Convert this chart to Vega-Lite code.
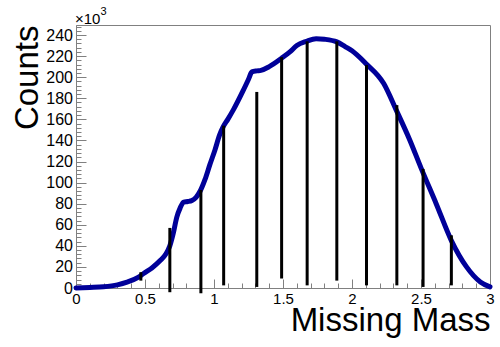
{
  "$schema": "https://vega.github.io/schema/vega-lite/v6.json",
  "width": 414,
  "height": 263,
  "autosize": "none",
  "padding": {"left": 76, "top": 25, "right": 10, "bottom": 59},
  "background": "white",
  "config": {
    "font": "Liberation Sans",
    "view": {"stroke": "#808080", "strokeWidth": 1},
    "axis": {"grid": false}
  },
  "datasets": {
    "curve": [
      {"mass": 0.0, "counts": 0.0},
      {"mass": 0.1, "counts": 0.5},
      {"mass": 0.2, "counts": 1.2},
      {"mass": 0.3, "counts": 3.0},
      {"mass": 0.37, "counts": 5.5},
      {"mass": 0.45, "counts": 10.0},
      {"mass": 0.49, "counts": 13.7},
      {"mass": 0.55, "counts": 19.0},
      {"mass": 0.61, "counts": 26.0},
      {"mass": 0.65, "counts": 32.0},
      {"mass": 0.68, "counts": 40.0},
      {"mass": 0.705, "counts": 52.0},
      {"mass": 0.73, "counts": 67.0},
      {"mass": 0.755, "counts": 76.0},
      {"mass": 0.78, "counts": 81.5},
      {"mass": 0.81, "counts": 82.0},
      {"mass": 0.84, "counts": 83.0},
      {"mass": 0.87, "counts": 86.0},
      {"mass": 0.9, "counts": 92.0},
      {"mass": 0.935, "counts": 103.0},
      {"mass": 0.97, "counts": 117.0},
      {"mass": 1.007, "counts": 131.0},
      {"mass": 1.04, "counts": 145.0},
      {"mass": 1.067, "counts": 153.0},
      {"mass": 1.1, "counts": 160.0},
      {"mass": 1.14, "counts": 169.0},
      {"mass": 1.21, "counts": 187.0},
      {"mass": 1.25, "counts": 198.0},
      {"mass": 1.275, "counts": 205.0},
      {"mass": 1.31, "counts": 206.0},
      {"mass": 1.34, "counts": 206.5},
      {"mass": 1.4, "counts": 210.0},
      {"mass": 1.49, "counts": 218.0},
      {"mass": 1.55, "counts": 224.0},
      {"mass": 1.6, "counts": 230.0},
      {"mass": 1.67, "counts": 234.0},
      {"mass": 1.74, "counts": 236.5},
      {"mass": 1.8, "counts": 236.0},
      {"mass": 1.89, "counts": 233.5},
      {"mass": 1.95, "counts": 229.0},
      {"mass": 2.0, "counts": 225.0},
      {"mass": 2.1, "counts": 213.0},
      {"mass": 2.23, "counts": 194.0},
      {"mass": 2.32, "counts": 169.0},
      {"mass": 2.42, "counts": 140.0},
      {"mass": 2.5, "counts": 114.0},
      {"mass": 2.61, "counts": 80.0},
      {"mass": 2.72, "counts": 45.0},
      {"mass": 2.83, "counts": 20.0},
      {"mass": 2.93, "counts": 5.7},
      {"mass": 3.0, "counts": 1.0}
    ],
    "bars": [
      {"mass": 0.47, "low": 7, "high": 15},
      {"mass": 0.68, "low": -4, "high": 57},
      {"mass": 0.905, "low": -5, "high": 93},
      {"mass": 1.07, "low": 2.5, "high": 154},
      {"mass": 1.31, "low": 1, "high": 186},
      {"mass": 1.49, "low": 9, "high": 219},
      {"mass": 1.675, "low": 2.5, "high": 234},
      {"mass": 1.89, "low": 7, "high": 234},
      {"mass": 2.105, "low": 2.5, "high": 211.5},
      {"mass": 2.325, "low": 2.5, "high": 173.5},
      {"mass": 2.515, "low": 1, "high": 113},
      {"mass": 2.72, "low": 2.5, "high": 50}
    ],
    "note": [{"base": "×10", "exp": "3"}]
  },
  "layer": [
    {
      "data": {"name": "curve"},
      "mark": {"type": "line", "color": "#000099", "strokeWidth": 5, "strokeCap": "round", "strokeJoin": "round", "interpolate": "monotone"},
      "encoding": {
        "x": {
          "field": "mass", "type": "quantitative",
          "scale": {"domain": [0, 3], "nice": false, "zero": false},
          "axis": {
            "orient": "bottom",
            "values": [0, 0.5, 1, 1.5, 2, 2.5, 3],
            "format": "~g",
            "tickSize": -9,
            "tickColor": "#808080",
            "domainColor": "#808080",
            "labelPadding": 12,
            "labelFontSize": 15,
            "labelColor": "black",
            "labelFlush": false,
            "title": "Missing Mass",
            "titleFontSize": 33,
            "titleFontWeight": "normal",
            "titleColor": "black",
            "titleX": 414,
            "titleY": 42,
            "titleAlign": "right",
            "titleBaseline": "alphabetic"
          }
        },
        "y": {
          "field": "counts", "type": "quantitative",
          "scale": {"domain": [0, 249.5], "nice": false, "zero": false},
          "axis": {
            "orient": "left",
            "values": [0, 20, 40, 60, 80, 100, 120, 140, 160, 180, 200, 220, 240],
            "format": "d",
            "tickSize": -10,
            "tickColor": "#808080",
            "domainColor": "#808080",
            "labelPadding": 13.5,
            "labelFontSize": 16,
            "labelColor": "black",
            "labelFlush": false,
            "title": "Counts",
            "titleFontSize": 33,
            "titleFontWeight": "normal",
            "titleColor": "black",
            "titleX": -39,
            "titleY": 0,
            "titleAngle": 270,
            "titleAlign": "right",
            "titleBaseline": "alphabetic"
          }
        }
      }
    },
    {
      "data": {"name": "bars"},
      "mark": {"type": "rule", "color": "black", "strokeWidth": 3},
      "encoding": {
        "x": {
          "field": "mass", "type": "quantitative",
          "axis": {
            "orient": "bottom",
            "values": [0, 0.1, 0.2, 0.3, 0.4, 0.5, 0.6, 0.7, 0.8, 0.9, 1, 1.1, 1.2, 1.3, 1.4, 1.5, 1.6, 1.7, 1.8, 1.9, 2, 2.1, 2.2, 2.3, 2.4, 2.5, 2.6, 2.7, 2.8, 2.9, 3],
            "tickSize": -5,
            "tickColor": "#808080",
            "domain": false,
            "labels": false,
            "title": null
          }
        },
        "y": {
          "field": "low", "type": "quantitative",
          "axis": {
            "orient": "left",
            "values": [0, 4, 8, 12, 16, 20, 24, 28, 32, 36, 40, 44, 48, 52, 56, 60, 64, 68, 72, 76, 80, 84, 88, 92, 96, 100, 104, 108, 112, 116, 120, 124, 128, 132, 136, 140, 144, 148, 152, 156, 160, 164, 168, 172, 176, 180, 184, 188, 192, 196, 200, 204, 208, 212, 216, 220, 224, 228, 232, 236, 240, 244, 248],
            "tickSize": -5,
            "tickColor": "#808080",
            "domain": false,
            "labels": false,
            "title": null
          }
        },
        "y2": {"field": "high"}
      }
    },
    {
      "data": {"name": "note"},
      "mark": {"type": "text", "align": "left", "baseline": "alphabetic", "fontSize": 15, "dx": -1, "dy": -1.5, "color": "black"},
      "encoding": {
        "x": {"datum": 0, "type": "quantitative", "axis": null},
        "y": {"datum": 249.5, "type": "quantitative", "axis": null},
        "text": {"field": "base"}
      }
    },
    {
      "data": {"name": "note"},
      "mark": {"type": "text", "align": "left", "baseline": "alphabetic", "fontSize": 11, "dx": 24.5, "dy": -10, "color": "black"},
      "encoding": {
        "x": {"datum": 0, "type": "quantitative", "axis": null},
        "y": {"datum": 249.5, "type": "quantitative", "axis": null},
        "text": {"field": "exp"}
      }
    }
  ],
  "resolve": {"axis": {"x": "independent", "y": "independent"}}
}
